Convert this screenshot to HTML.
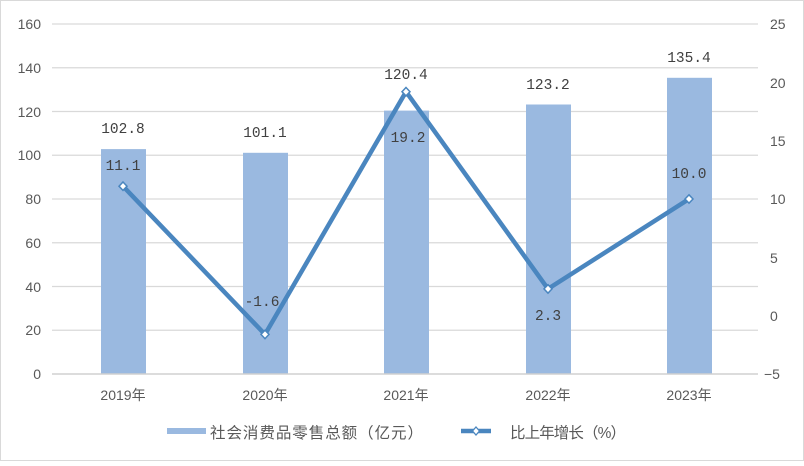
<!DOCTYPE html><html><head><meta charset="utf-8"><style>body{margin:0;background:#fff}</style></head><body>
<svg width="804" height="461" xmlns="http://www.w3.org/2000/svg">
<rect x="0.5" y="0.5" width="803" height="460" fill="#fff" stroke="#d9d9d9"/>
<g stroke="#d9d9d9" stroke-width="1.3">
<line x1="52" x2="758" y1="24" y2="24"/><line x1="52" x2="758" y1="67.75" y2="67.75"/><line x1="52" x2="758" y1="111.5" y2="111.5"/><line x1="52" x2="758" y1="155.25" y2="155.25"/><line x1="52" x2="758" y1="199" y2="199"/><line x1="52" x2="758" y1="242.75" y2="242.75"/><line x1="52" x2="758" y1="286.5" y2="286.5"/><line x1="52" x2="758" y1="330.25" y2="330.25"/>
</g>
<g fill="#9ab9e0">
<rect x="101" y="149.1" width="45" height="224.9"/><rect x="243" y="152.8" width="45" height="221.2"/><rect x="384" y="110.6" width="45" height="263.4"/><rect x="526" y="104.5" width="45" height="269.5"/><rect x="667" y="77.8" width="45" height="296.2"/>
</g>
<line x1="52" x2="758" y1="374" y2="374" stroke="#d0d0d0" stroke-width="1.5"/>
<polyline points="123,186.2 265,334.4 406,91.7 548,288.9 689,199" fill="none" stroke="#4a86bf" stroke-width="4.5" stroke-linejoin="round"/>
<g fill="#fff" stroke="#4a86bf" stroke-width="1.5">
<path d="M123 182l4 4.2-4 4.2-4-4.2z"/><path d="M265 330.2l4 4.2-4 4.2-4-4.2z"/><path d="M406 87.5l4 4.2-4 4.2-4-4.2z"/><path d="M548 284.7l4 4.2-4 4.2-4-4.2z"/><path d="M689 194.8l4 4.2-4 4.2-4-4.2z"/>
</g>
<g font-family="Liberation Sans Narrow, Liberation Sans, sans-serif" font-size="14" fill="#595959">
<g text-anchor="end"><text x="41" y="29">160</text><text x="41" y="73">140</text><text x="41" y="117">120</text><text x="41" y="160">100</text><text x="41" y="204">80</text><text x="41" y="248">60</text><text x="41" y="292">40</text><text x="41" y="335">20</text><text x="41" y="379">0</text></g>
<g text-anchor="start"><text x="770" y="29">25</text><text x="770" y="88">20</text><text x="770" y="146">15</text><text x="770" y="204">10</text><text x="770" y="263">5</text><text x="770" y="321">0</text><text x="764" y="379">−5</text></g>
</g>
<g font-family="Liberation Sans Narrow, Liberation Sans, Noto Sans CJK SC, sans-serif" font-size="14" fill="#595959" text-anchor="middle">
<text x="123" y="400">2019年</text><text x="265" y="400">2020年</text><text x="406" y="400">2021年</text><text x="548" y="400">2022年</text><text x="689" y="400">2023年</text>
</g>
<g font-family="Liberation Mono, monospace" font-size="14.5" fill="#404040" text-anchor="middle">
<text x="123" y="133">102.8</text><text x="265" y="137">101.1</text><text x="406" y="79">120.4</text><text x="548" y="89">123.2</text><text x="689" y="62">135.4</text>
<text x="123" y="170">11.1</text><text x="262" y="306">-1.6</text><text x="408" y="142">19.2</text><text x="548" y="320">2.3</text><text x="689" y="178">10.0</text>
</g>
<rect x="167" y="428" width="39" height="6" fill="#9ab9e0"/>
<text x="210" y="438" font-family="Liberation Sans, Noto Sans CJK SC, sans-serif" font-size="15.5" letter-spacing="1" textLength="214" fill="#595959">社会消费品零售总额（亿元）</text>
<line x1="461" x2="491" y1="431" y2="431" stroke="#4a86bf" stroke-width="4.5"/>
<path d="M476 427l3.5 4-3.5 4-3.5-4z" fill="#fff" stroke="#4a86bf" stroke-width="1.3"/>
<text x="510" y="438" font-family="Liberation Sans, Noto Sans CJK SC, sans-serif" font-size="15.5" textLength="116" fill="#595959">比上年增长（%）</text>
</svg>
</body></html>
